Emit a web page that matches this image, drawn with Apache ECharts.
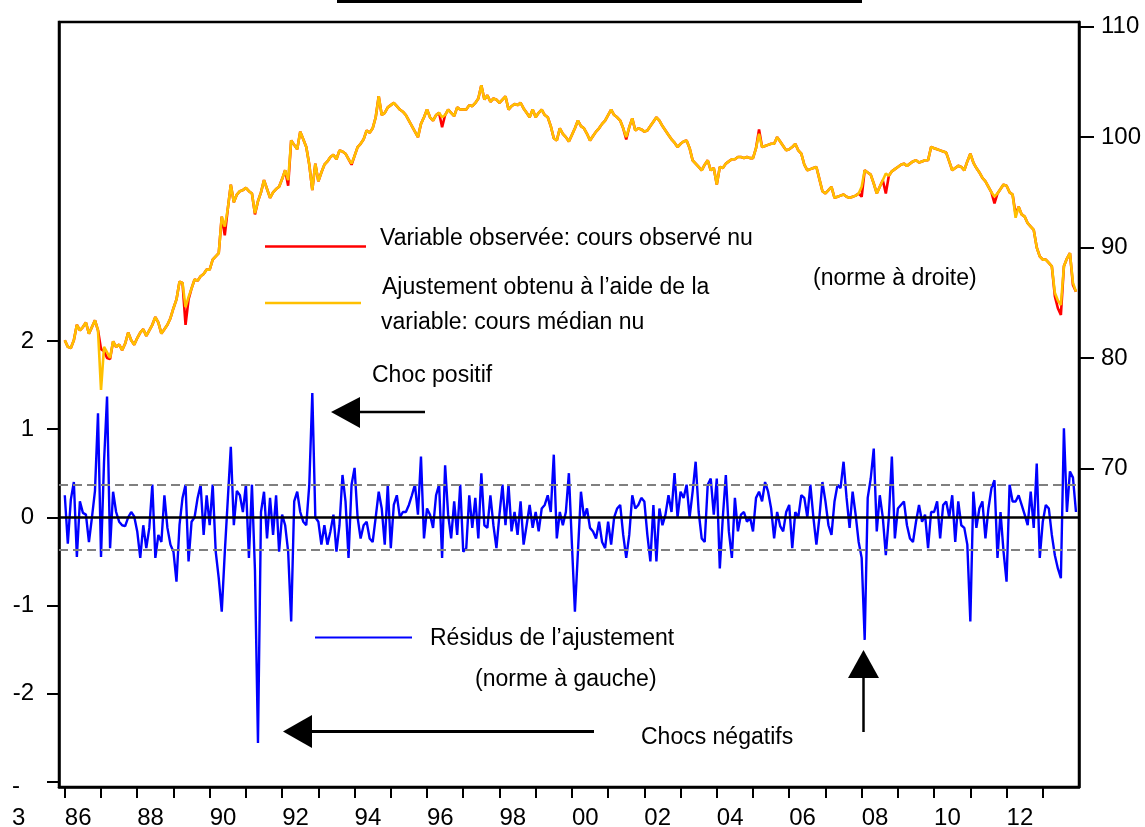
<!DOCTYPE html>
<html><head><meta charset="utf-8">
<script src="https://cdn.jsdelivr.net/npm/echarts@6/dist/echarts.min.js"></script>
<style>html,body{margin:0;padding:0;background:#fff}#c{width:1145px;height:827px}</style>
</head><body><div id="c"></div>
<script>
// ---- DATA (monthly, Jan 1986 .. Dec 2013) ----
const startYear = 1986;
const residuals = [
 0.25,-0.3,0.2,0.4,-0.45,0.18,0.05,0.03,-0.28,0.0,0.3,1.18,
 -0.45,0.63,1.37,-0.35,0.29,0.06,-0.05,-0.09,-0.1,0.0,0.06,0.01,
 -0.16,-0.46,-0.09,-0.35,-0.12,0.37,-0.46,-0.2,-0.28,0.25,-0.12,-0.31,
 -0.39,-0.73,-0.09,0.22,0.37,-0.5,-0.05,0.0,0.22,0.37,-0.2,0.25,
 -0.09,0.37,-0.39,-0.69,-1.07,-0.4,0.2,0.8,-0.09,0.3,0.25,0.06,
 0.37,-0.46,0.37,-0.6,-2.56,0.06,0.29,-0.24,0.22,-0.2,0.25,-0.39,
 0.03,-0.09,-0.39,-1.18,0.18,0.29,0.06,-0.05,-0.09,0.37,1.41,0.0,
 -0.05,-0.31,-0.09,-0.31,-0.16,0.03,-0.39,-0.09,0.48,0.18,-0.46,0.37,
 0.56,0.0,-0.24,-0.09,-0.05,-0.24,-0.28,0.0,0.29,0.1,-0.31,0.37,
 -0.35,0.14,0.25,0.0,0.06,0.06,0.14,0.25,0.37,0.03,0.69,-0.24,
 0.1,0.03,-0.12,0.25,0.37,-0.46,0.59,0.03,-0.24,0.18,-0.2,0.37,
 -0.39,-0.35,0.25,-0.12,0.22,-0.24,0.5,-0.09,-0.12,0.25,-0.09,-0.35,
 0.03,0.37,-0.09,0.37,-0.16,0.06,-0.2,0.18,-0.31,-0.09,0.14,-0.12,
 0.06,-0.16,0.1,0.14,0.25,0.06,0.71,-0.24,0.06,-0.09,0.06,0.5,
 -0.3,-1.07,-0.39,0.29,0.0,0.1,-0.12,-0.16,-0.24,-0.05,-0.28,-0.35,
 -0.05,-0.31,0.0,0.1,0.14,-0.2,-0.46,-0.2,0.25,0.1,0.14,0.22,
 0.18,-0.2,-0.5,0.14,-0.5,0.1,-0.09,0.03,0.25,0.06,0.5,0.0,
 0.29,0.22,0.37,0.0,0.29,0.63,0.06,-0.24,-0.28,0.37,0.44,0.03,
 0.44,-0.58,0.0,0.48,-0.16,-0.46,0.22,-0.16,0.03,0.06,-0.05,0.0,
 -0.16,0.22,0.29,0.18,0.4,0.29,0.1,-0.24,0.06,-0.1,-0.16,0.06,
 0.14,-0.35,0.06,0.0,0.25,0.22,0.0,0.37,0.0,-0.31,0.0,0.4,
 0.18,-0.09,-0.2,0.18,0.37,0.33,0.63,0.22,-0.12,0.29,0.03,-0.28,
 -0.46,-1.39,0.22,0.44,0.78,-0.16,0.25,0.0,-0.43,0.0,0.69,-0.24,
 0.1,0.14,0.18,-0.09,-0.24,-0.28,-0.05,0.14,-0.05,0.03,-0.35,0.06,
 0.06,0.18,-0.24,0.14,0.18,0.0,0.25,-0.28,0.18,-0.09,-0.12,-0.31,
 -1.18,0.29,-0.12,0.1,0.18,-0.24,0.1,0.33,0.42,-0.46,0.06,-0.39,
 -0.73,0.37,0.18,0.18,0.25,0.14,0.03,-0.09,0.29,-0.12,0.61,-0.46,
 -0.05,0.14,0.1,-0.2,-0.43,-0.58,-0.69,1.01,0.06,0.52,0.45,0.06
];
const fitted = [
 81.6,81.0,80.9,81.6,83.0,82.5,82.8,83.2,82.2,82.8,83.4,82.5,
 77.1,81.0,80.5,80.0,81.5,81.0,81.2,80.7,81.3,82.3,81.6,81.2,
 81.8,82.3,82.6,82.0,82.5,83.0,83.7,83.2,82.2,82.6,83.0,83.6,
 84.5,85.3,86.9,86.8,84.6,85.5,86.3,87.1,87.0,87.4,87.6,88.0,
 88.0,88.9,89.2,89.5,92.8,91.9,93.5,95.7,94.1,94.8,95.1,95.2,
 95.4,95.1,94.9,93.1,94.2,95.0,96.1,95.3,94.5,95.0,95.3,95.5,
 96.2,97.0,96.1,99.7,99.3,98.9,100.5,99.8,99.1,97.5,95.2,97.6,
 96.0,96.8,97.5,97.8,98.2,98.4,98.0,98.8,98.7,98.5,98.0,97.6,
 98.3,99.1,99.4,99.8,100.6,100.4,100.8,101.8,103.7,102.0,102.2,102.7,
 102.9,103.1,102.8,102.5,102.3,102.0,101.5,101.0,100.5,100.0,101.2,101.8,
 102.5,101.8,101.5,102.0,102.2,101.8,102.0,102.5,102.2,101.9,102.7,102.5,
 102.5,102.5,102.9,102.8,103.1,103.5,104.7,103.4,103.8,103.2,103.5,103.4,
 103.1,103.4,103.7,102.5,102.8,103.0,102.9,103.1,102.6,102.2,101.8,102.5,
 101.8,102.2,102.5,102.0,101.8,101.0,99.9,99.7,100.8,100.3,100.0,99.6,
 100.2,100.8,101.5,101.0,100.8,100.3,99.7,100.1,100.5,100.8,101.2,101.5,
 102.0,102.5,102.0,101.8,101.5,100.8,100.0,100.9,101.7,100.6,100.8,100.7,
 100.5,100.6,101.0,101.4,101.8,101.5,101.0,100.6,100.2,99.8,99.5,99.1,
 99.4,99.6,99.7,99.0,97.9,97.6,97.3,97.0,97.5,97.9,97.0,97.2,
 95.7,97.3,97.2,97.6,97.8,98.0,98.0,98.2,98.2,98.1,98.2,98.1,
 98.1,99.0,100.3,99.1,99.2,99.3,99.4,99.4,100.0,99.6,99.2,98.8,
 98.9,99.1,99.4,98.8,98.5,97.5,97.0,97.1,97.2,97.3,96.2,95.1,
 94.9,95.2,95.5,94.5,94.6,94.7,94.8,94.6,94.5,94.6,94.7,94.9,
 95.5,97.0,96.8,96.6,95.8,94.9,95.5,96.1,96.7,96.5,96.9,97.1,
 97.3,97.5,97.6,97.4,97.6,97.8,97.9,97.7,97.8,97.9,97.9,99.1,
 99.0,98.9,98.8,98.7,98.6,97.8,97.0,97.2,97.4,97.3,97.0,97.8,
 98.5,97.7,97.2,96.8,96.3,96.0,95.5,95.0,94.6,94.9,95.3,95.7,
 95.6,95.0,94.8,92.7,93.7,93.0,92.8,92.2,91.9,91.6,90.0,89.2,
 88.9,88.9,88.6,88.3,85.9,85.2,84.8,88.3,89.0,89.5,86.8,86.0
];
const observed = [
 81.6,81.0,80.9,81.6,83.0,82.5,82.8,83.2,82.2,82.8,83.4,82.5,
 80.8,80.6,80.0,79.9,81.5,81.0,81.2,80.7,81.3,82.3,81.6,81.2,
 81.8,82.3,82.6,82.0,82.5,83.0,83.7,83.2,82.2,82.6,83.0,83.6,
 84.5,85.3,86.9,86.8,83.0,85.3,86.3,87.1,87.0,87.4,87.6,88.0,
 88.0,88.9,89.2,89.5,92.8,91.1,93.5,95.7,94.1,94.8,95.1,95.2,
 95.4,95.1,94.9,93.0,94.2,95.0,96.1,95.3,94.5,95.0,95.3,95.5,
 96.2,97.0,95.6,99.7,99.3,98.9,100.5,99.8,99.1,97.5,95.2,97.6,
 96.0,96.8,97.5,97.8,98.2,98.4,98.0,98.8,98.7,98.5,98.0,97.5,
 98.3,99.1,99.4,99.8,100.6,100.4,100.8,101.8,103.7,102.0,102.2,102.7,
 102.9,103.1,102.8,102.5,102.3,102.0,101.5,101.0,100.5,100.0,101.2,101.8,
 102.5,101.8,101.5,102.0,102.2,100.9,102.0,102.5,102.2,101.9,102.7,102.5,
 102.5,102.5,102.9,102.8,103.1,103.5,104.7,103.4,103.8,103.2,103.5,103.4,
 103.1,103.4,103.7,102.5,102.8,103.0,102.9,103.1,102.6,102.2,101.8,102.5,
 101.8,102.2,102.5,102.0,101.8,101.0,99.9,99.7,100.8,100.3,100.0,99.6,
 100.2,100.8,101.5,101.0,100.8,100.3,99.7,100.1,100.5,100.8,101.2,101.5,
 102.0,102.5,102.0,101.8,101.5,100.8,99.8,100.9,101.7,100.6,100.8,100.7,
 100.5,100.6,101.0,101.4,101.8,101.5,101.0,100.6,100.2,99.8,99.5,99.1,
 99.4,99.6,99.7,99.0,97.9,97.6,97.3,97.0,97.5,97.9,97.0,97.2,
 95.7,97.3,97.2,97.6,97.8,98.0,98.0,98.2,98.2,98.1,98.2,98.1,
 98.1,99.0,100.7,99.1,99.2,99.3,99.4,99.4,100.0,99.6,99.2,98.8,
 98.9,99.1,99.4,98.8,98.5,97.5,97.0,97.1,97.2,97.3,96.2,95.1,
 94.9,95.2,95.5,94.5,94.6,94.7,94.8,94.6,94.5,94.6,94.7,94.9,
 94.6,97.0,96.8,96.6,95.8,94.9,95.5,96.1,94.9,96.5,96.9,97.1,
 97.3,97.5,97.6,97.4,97.6,97.8,97.9,97.7,97.8,97.9,97.9,99.1,
 99.0,98.9,98.8,98.7,98.6,97.8,97.0,97.2,97.4,97.3,97.0,97.8,
 98.5,97.7,97.2,96.8,96.3,96.0,95.5,95.0,94.0,94.9,95.3,95.7,
 95.6,95.0,94.8,93.0,93.7,93.0,92.8,92.2,91.9,91.6,90.0,89.2,
 88.9,88.9,88.6,88.3,85.6,84.5,83.9,88.3,89.0,89.5,86.6,86.0
];
const leftTicks = [-3, -2, -1, 0, 1, 2];
const rightTicks = [70, 80, 90, 100, 110];
const yearTicks = [1986,1987,1988,1989,1990,1991,1992,1993,1994,1995,1996,1997,1998,1999,2000,2001,2002,2003,2004,2005,2006,2007,2008,2009,2010,2011,2012,2013];
const yearLabels = [1986,1988,1990,1992,1994,1996,1998,2000,2002,2004,2006,2008,2010,2012];
const bandLevels = [0.37, -0.37];
const zeroLevel = 0;

// ---- CHART ----
const FONT = "'Liberation Sans', Arial, sans-serif";
const toPts = arr => arr.map((v, i) => [startYear + i / 12, v]);
const chart = echarts.init(document.getElementById('c'), null, {renderer: 'canvas'});

const txt = (x, y, s) => ({type: 'text', x: x, y: y, style: {text: s, fill: '#000', font: '23px ' + FONT, textVerticalAlign: 'middle', textAlign: 'left'}});
const seg = (x1, y1, x2, y2, c, w) => ({type: 'line', shape: {x1, y1, x2, y2}, style: {stroke: c, lineWidth: w}});
const tri = pts => ({type: 'polygon', shape: {points: pts}, style: {fill: '#000'}});

chart.setOption({
  animation: false,
  backgroundColor: '#fff',
  grid: {left: 59, right: 66, top: 22, bottom: 40, containLabel: false, outerBoundsMode: 'none',
         show: true, borderColor: '#000', borderWidth: 2.5, backgroundColor: 'transparent'},
  xAxis: {
    type: 'value', min: 1985.84, max: 2014.0, position: 'bottom',
    axisLine: {show: true, onZero: false, lineStyle: {color: '#000', width: 2.5}},
    axisTick: {show: true, inside: false, length: 11, customValues: yearTicks, lineStyle: {color: '#000', width: 2}},
    axisLabel: {show: true, customValues: yearLabels, formatter: v => String(Math.round(v)).slice(2), align: 'left', margin: 19, fontSize: 24, fontFamily: FONT, color: '#000'},
    splitLine: {show: false}
  },
  yAxis: [
    {
      type: 'value', position: 'left', min: -3.058, max: 5.616,
      axisLine: {show: true, onZero: false, lineStyle: {color: '#000', width: 2.5}},
      axisTick: {show: true, inside: false, length: 12, customValues: leftTicks, lineStyle: {color: '#000', width: 2}},
      axisLabel: {
        show: true, customValues: leftTicks, margin: 25, fontSize: 24, fontFamily: FONT, color: '#000', align: 'right',
        formatter: v => (Math.round(v) === -3 ? '{s| }\n{a|-}\n{a|3}' : String(Math.round(v))),
        rich: {s: {lineHeight: 40, fontSize: 24, fontFamily: FONT}, a: {width: 22, align: 'left', lineHeight: 32, fontSize: 24, fontFamily: FONT, color: '#000'}}
      },
      splitLine: {show: false}
    },
    {
      type: 'value', position: 'right', min: 41.13, max: 110.43,
      axisLine: {show: true, onZero: false, lineStyle: {color: '#000', width: 2.5}},
      axisTick: {show: true, inside: false, length: 15, customValues: rightTicks, lineStyle: {color: '#000', width: 2}},
      axisLabel: {show: true, customValues: rightTicks, margin: 22, fontSize: 24, fontFamily: FONT, color: '#000', align: 'left'},
      splitLine: {show: false}
    }
  ],
  series: [
    {
      name: 'bands', type: 'line', yAxisIndex: 0, data: [], z: 1, silent: true,
      markLine: {
        symbol: 'none', silent: true, label: {show: false}, animation: false,
        data: bandLevels.map(v => ({yAxis: v, lineStyle: {color: '#808080', type: [9, 5], width: 2.2}}))
          .concat([{yAxis: zeroLevel, lineStyle: {color: '#000', type: 'solid', width: 2.6}}])
      }
    },
    {name: 'Variable observée: cours observé nu', type: 'line', yAxisIndex: 1, data: toPts(observed), showSymbol: false, z: 2,
     lineStyle: {color: '#ff0000', width: 2.6}, itemStyle: {color: '#ff0000'}},
    {name: 'Ajustement', type: 'line', yAxisIndex: 1, data: toPts(fitted), showSymbol: false, z: 3,
     lineStyle: {color: '#ffc000', width: 2.6}, itemStyle: {color: '#ffc000'}},
    {name: 'Résidus de l’ajustement', type: 'line', yAxisIndex: 0, data: toPts(residuals), showSymbol: false, z: 4,
     lineStyle: {color: '#0000ff', width: 2.4}, itemStyle: {color: '#0000ff'}}
  ],
  graphic: [
    {type: 'rect', shape: {x: 337, y: 0, width: 525, height: 3}, style: {fill: '#000'}},
    seg(265, 246.5, 366, 246.5, '#ff0000', 2.6),
    txt(380, 239, 'Variable observée: cours observé nu'),
    seg(265, 303, 361, 303, '#ffc000', 2.6),
    txt(382, 288, 'Ajustement obtenu à l’aide de la'),
    txt(381, 323, 'variable: cours médian nu'),
    txt(813, 279, '(norme à droite)'),
    txt(372, 376, 'Choc positif'),
    seg(358, 412, 425, 412, '#000', 2.5),
    tri([[331, 412], [360, 397], [360, 428]]),
    seg(315, 637.5, 412, 637.5, '#0000ff', 2.2),
    txt(430, 639, 'Résidus de l’ajustement'),
    txt(475, 680, '(norme à gauche)'),
    seg(310, 731.5, 594, 731.5, '#000', 3),
    tri([[283, 731.5], [312, 715], [312, 748]]),
    txt(641, 738, 'Chocs négatifs'),
    seg(863.5, 676, 863.5, 732, '#000', 2.5),
    tri([[863.5, 650], [848, 678], [879, 678]])
  ]
});
</script>
</body></html>
